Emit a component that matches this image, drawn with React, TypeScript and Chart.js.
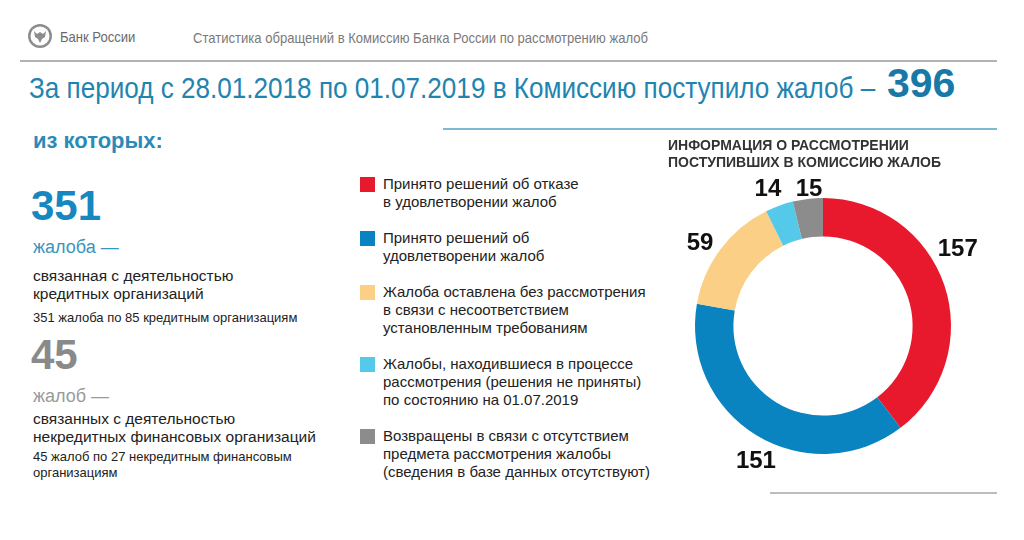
import React, { useEffect, useRef } from "react";
import { Chart, registerables } from "chart.js";

Chart.register(...registerables);

// ---- data ----
const categories: string[][] = [
  ["Принято решений об отказе", "в удовлетворении жалоб"],
  ["Принято решений об", "удовлетворении жалоб"],
  ["Жалоба оставлена без рассмотрения", "в связи с несоответствием", "установленным требованиям"],
  ["Жалобы, находившиеся в процессе", "рассмотрения (решения не приняты)", "по состоянию на 01.07.2019"],
  ["Возвращены в связи с отсутствием", "предмета рассмотрения жалобы", "(сведения в базе данных отсутствуют)"],
];
const values: number[] = [157, 151, 59, 14, 15];
const colors: string[] = ["#e8192c", "#0a84c1", "#fbd086", "#55c9e9", "#8c8c8c"];

const totalComplaints = 396;
const creditComplaints = 351;
const creditOrgs = 85;
const nonCreditComplaints = 45;
const nonCreditOrgs = 27;

// label placement style (relative to arc geometry)
const labelNudgeDeg = [-11, -5, -3, -2, 1];
const labelGap = [27, 23, 20, 19, 9];

const sans = '"Liberation Sans", Arial, sans-serif';
const NARROW = 0.87;

const arcLabels = {
  id: "arcLabels",
  afterDatasetsDraw(chart: any) {
    const ctx = chart.ctx;
    const meta = chart.getDatasetMeta(0);
    ctx.save();
    ctx.font = `bold 24px ${sans}`;
    ctx.fillStyle = "#111";
    ctx.textAlign = "center";
    ctx.textBaseline = "middle";
    meta.data.forEach((arc: any, i: number) => {
      const p = arc.getProps(["x", "y", "startAngle", "endAngle", "outerRadius"], true);
      const a = (p.startAngle + p.endAngle) / 2 + (labelNudgeDeg[i] * Math.PI) / 180;
      const r = p.outerRadius + labelGap[i];
      ctx.fillText(String(chart.data.datasets[0].data[i]), p.x + Math.cos(a) * r, p.y + Math.sin(a) * r);
    });
    ctx.restore();
  },
};

function Donut() {
  const ref = useRef<HTMLCanvasElement | null>(null);
  useEffect(() => {
    if (!ref.current) return;
    const chart = new Chart(ref.current, {
      type: "doughnut",
      data: {
        labels: categories.map((c) => c.join(" ")),
        datasets: [
          {
            data: values,
            backgroundColor: colors,
            borderWidth: 0,
          },
        ],
      },
      options: {
        animation: false,
        responsive: false,
        maintainAspectRatio: false,
        cutout: "70%",
        layout: { padding: 42 },
        plugins: {
          legend: { display: false },
          tooltip: { enabled: false },
          title: { display: false },
        },
      },
      plugins: [arcLabels],
    });
    return () => chart.destroy();
  }, []);
  return (
    <canvas
      ref={ref}
      width={340}
      height={340}
      style={{ position: "absolute", left: 653, top: 156, width: 340, height: 340 }}
    />
  );
}

function Txt(props: {
  left: number;
  top: number;
  size: number;
  lh: number;
  color: string;
  bold?: boolean;
  narrow?: boolean;
  lines: string[];
}) {
  return (
    <div
      style={{
        position: "absolute",
        left: props.left,
        top: props.top,
        fontSize: props.size,
        lineHeight: props.lh + "px",
        color: props.color,
        fontWeight: props.bold ? 700 : 400,
        fontFamily: sans,
        whiteSpace: "nowrap",
        transform: props.narrow ? `scaleX(${NARROW})` : undefined,
        transformOrigin: "left center",
      }}
    >
      {props.lines.map((l, i) => (
        <div key={i}>{l}</div>
      ))}
    </div>
  );
}

export default function App() {
  return (
    <div
      style={{
        position: "fixed",
        left: 0,
        top: 0,
        width: 1024,
        height: 540,
        background: "#fff",
        overflow: "hidden",
        fontFamily: sans,
      }}
    >
      {/* header */}
      <svg style={{ position: "absolute", left: 27, top: 23 }} width={26} height={26} viewBox="0 0 26 26">
        <circle cx={13} cy={13} r={12} fill="#8d8d8d" />
        <circle cx={13} cy={13} r={9.5} fill="#fff" />
        <path d="M7 8 L10 11 L13 9 L16 11 L19 8 L18 14 L15 16 L13 20 L11 16 L8 14 Z" fill="#8d8d8d" />
      </svg>
      <Txt left={60} top={28} size={15} lh={18} color="#6a6a6a" narrow lines={["Банк России"]} />
      <Txt
        left={193}
        top={29}
        size={15}
        lh={18}
        color="#7a7a7a"
        narrow
        lines={["Статистика обращений в Комиссию Банка России по рассмотрению жалоб"]}
      />
      <div style={{ position: "absolute", left: 20, top: 60, width: 977, height: 2, background: "#b3b3b3" }} />

      {/* title */}
      <Txt
        left={29}
        top={70}
        size={30}
        lh={36}
        color="#1f84b0"
        narrow
        lines={["За период с 28.01.2018 по 01.07.2019 в Комиссию поступило жалоб –"]}
      />
      <Txt left={887} top={59} size={41} lh={48} color="#1878a6" bold lines={[String(totalComplaints)]} />
      <div style={{ position: "absolute", left: 443, top: 128, width: 554, height: 2, background: "#7fb8d2" }} />

      {/* left column */}
      <Txt left={33} top={127} size={22} lh={28} color="#2b8bb8" bold lines={["из которых:"]} />
      <Txt left={31} top={181} size={42} lh={50} color="#1787bf" bold lines={[String(creditComplaints)]} />
      <Txt left={33} top={236} size={18} lh={22} color="#3a93bf" lines={["жалоба —"]} />
      <Txt
        left={33}
        top={267}
        size={15.5}
        lh={17.5}
        color="#222"
        lines={["связанная с деятельностью", "кредитных организаций"]}
      />
      <Txt
        left={33}
        top={310}
        size={13}
        lh={16}
        color="#222"
        lines={[`${creditComplaints} жалоба по ${creditOrgs} кредитным организациям`]}
      />
      <Txt left={31} top={330} size={42} lh={50} color="#8a8a8a" bold lines={[String(nonCreditComplaints)]} />
      <Txt left={33} top={385} size={18} lh={22} color="#9a9a9a" lines={["жалоб —"]} />
      <Txt
        left={33}
        top={410}
        size={15.5}
        lh={17.5}
        color="#222"
        lines={["связанных с деятельностью", "некредитных финансовых организаций"]}
      />
      <Txt
        left={33}
        top={449}
        size={13}
        lh={15.5}
        color="#222"
        lines={[`${nonCreditComplaints} жалоб по ${nonCreditOrgs} некредитным финансовым`, "организациям"]}
      />

      {/* legend */}
      <div
        style={{
          position: "absolute",
          left: 360,
          top: 175,
          display: "flex",
          flexDirection: "column",
          gap: 18,
        }}
      >
        {categories.map((lines, i) => (
          <div key={i} style={{ display: "flex", alignItems: "flex-start" }}>
            <div style={{ width: 15, height: 15, background: colors[i], marginTop: 2, marginRight: 8, flex: "none" }} />
            <div style={{ fontSize: 15, lineHeight: "18px", color: "#222", whiteSpace: "nowrap" }}>
              {lines.map((l, j) => (
                <div key={j}>{l}</div>
              ))}
            </div>
          </div>
        ))}
      </div>

      {/* chart */}
      <Donut />
      <Txt
        left={668}
        top={137}
        size={14}
        lh={17}
        color="#333"
        bold
        lines={["ИНФОРМАЦИЯ О РАССМОТРЕНИИ", "ПОСТУПИВШИХ В КОМИССИЮ ЖАЛОБ"]}
      />
      <div style={{ position: "absolute", left: 770, top: 492, width: 227, height: 2, background: "#bdbdbd" }} />
    </div>
  );
}
